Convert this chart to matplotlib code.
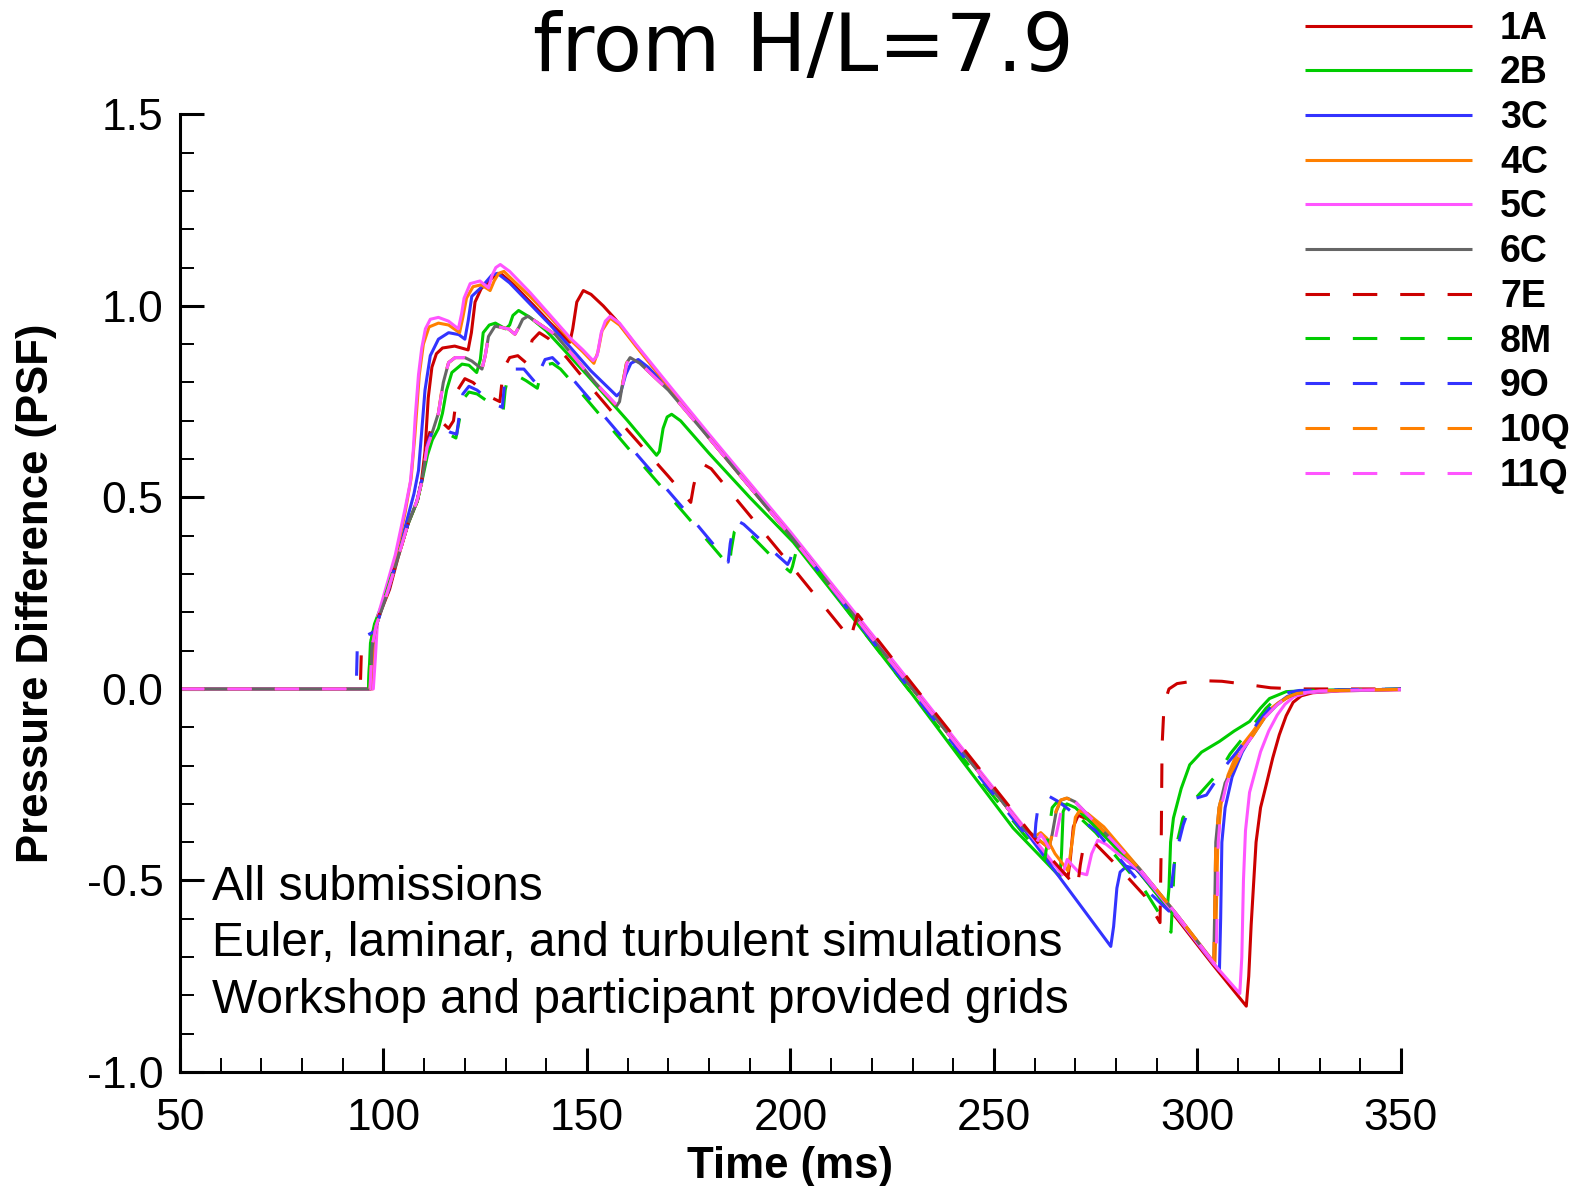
import matplotlib
matplotlib.use("Agg")
import matplotlib.pyplot as plt
from matplotlib.ticker import MultipleLocator, FormatStrFormatter

# ----- data (time in ms, pressure difference in PSF) -----
t_1a = [50, 96.8, 97.3, 98.2, 100, 101.5, 103.5, 106, 108.3, 109.3, 110.2, 111, 111.9, 113, 114.5, 117.5,
        120.8, 121.6, 122.5, 124, 125.5, 127.4, 129, 132, 137, 141, 145.8, 146.5, 147.5, 149.1, 151, 154,
        157, 160, 170, 180, 200, 230, 257, 263, 268.2, 268.8, 269.5, 270.7, 273, 276, 285.8, 295, 303.8,
        312, 312.6, 313.2, 314.4, 315.5, 316.9, 318.5, 320.1, 321.8, 323.5, 325.5, 328.3, 335, 350]
p_1a = [0, 0, 0.10, 0.17, 0.22, 0.26, 0.34, 0.43, 0.49, 0.54, 0.62, 0.76, 0.84, 0.875, 0.89, 0.895,
        0.885, 0.93, 1.01, 1.045, 1.06, 1.08, 1.083, 1.055, 1.0, 0.955, 0.905, 0.94, 1.01, 1.04, 1.03, 1.0,
        0.965, 0.925, 0.79, 0.655, 0.40, 0.0, -0.36, -0.44, -0.49, -0.44, -0.36, -0.33, -0.34, -0.37, -0.48, -0.60, -0.72,
        -0.828, -0.75, -0.615, -0.40, -0.31, -0.25, -0.18, -0.12, -0.07, -0.035, -0.018, -0.01, -0.005, -0.002]

t_2b = [50, 96.3, 96.8, 97.8, 100, 103, 106, 108.3, 109.6, 110.8, 112, 113.5, 114.5, 115.5, 116.8, 119.3,
        121, 122.9, 123.8, 124.5, 126, 127.5, 130, 131, 131.8, 133.2, 136, 140, 150, 160, 167.1, 167.8,
        168.7, 169.7, 170.8, 173, 180, 190, 200.7, 215, 230, 242, 254.7, 266.2, 266.6, 267, 267.9, 270,
        275, 285, 292.6, 293, 293.4, 294.1, 296, 298.1, 301, 305.4, 309, 312.8, 315.5, 317.7, 321.8, 330, 350]
p_2b = [0, 0, 0.12, 0.17, 0.23, 0.33, 0.43, 0.49, 0.55, 0.61, 0.65, 0.68, 0.72, 0.78, 0.826, 0.848,
        0.845, 0.826, 0.86, 0.93, 0.95, 0.955, 0.94, 0.95, 0.975, 0.988, 0.97, 0.935, 0.82, 0.70, 0.61, 0.62,
        0.68, 0.71, 0.717, 0.70, 0.615, 0.50, 0.383, 0.19, -0.015, -0.185, -0.363, -0.49, -0.43, -0.32, -0.30, -0.31,
        -0.36, -0.47, -0.57, -0.52, -0.40, -0.337, -0.26, -0.198, -0.165, -0.137, -0.11, -0.085, -0.05, -0.025, -0.007, -0.003, -0.001]

t_3c = [50, 96.8, 97.3, 98.3, 100.5, 103, 105.5, 107.5, 108.6, 109.3, 110.2, 111.5, 113.5, 116, 118.5, 120,
        120.8, 121.7, 124.2, 126.6, 128, 131, 136, 141, 145.8, 151, 157.3, 158.3, 159.5, 160.8, 162.6, 165,
        170, 180, 200, 230, 257, 266, 278.7, 279.4, 280.2, 281, 282.6, 285, 290, 295, 303.8, 305.4, 305.7,
        306, 306.8, 308.5, 311, 313.7, 316.5, 319.5, 322, 325, 335, 350]
p_3c = [0, 0, 0.12, 0.17, 0.24, 0.33, 0.43, 0.51, 0.57, 0.66, 0.78, 0.87, 0.913, 0.93, 0.925, 0.913,
        0.96, 1.025, 1.05, 1.08, 1.085, 1.06, 1.005, 0.95, 0.893, 0.83, 0.765, 0.775, 0.82, 0.85, 0.86, 0.84,
        0.785, 0.66, 0.405, 0.005, -0.36, -0.49, -0.672, -0.62, -0.52, -0.478, -0.463, -0.47, -0.53, -0.595, -0.715, -0.735, -0.60,
        -0.40, -0.31, -0.23, -0.165, -0.115, -0.07, -0.04, -0.02, -0.008, -0.003, -0.001]

t_4c = [50, 97.3, 97.8, 98.5, 100.5, 103, 105.3, 106.8, 107.7, 108.8, 109.8, 111.2, 113.5, 116, 118.7, 119.5,
        120.4, 122, 124, 126.2, 127.2, 128.3, 129.6, 132, 136, 141, 146, 149, 151.7, 152.7, 153.7, 155.7,
        158, 162, 170, 180, 200, 230, 257, 260, 261.5, 263, 265, 268.2, 269.2, 270, 271, 273, 277, 285.8,
        295, 303.8, 304.3, 304.6, 305, 305.8, 307.5, 310, 313.7, 317, 320, 324, 330, 350]
p_4c = [0, 0, 0.10, 0.18, 0.25, 0.345, 0.46, 0.55, 0.66, 0.82, 0.90, 0.945, 0.955, 0.95, 0.93, 0.97,
        1.02, 1.05, 1.055, 1.04, 1.065, 1.085, 1.09, 1.065, 1.025, 0.97, 0.91, 0.88, 0.85, 0.88, 0.935, 0.968,
        0.95, 0.895, 0.79, 0.66, 0.405, 0.005, -0.36, -0.385, -0.375, -0.39, -0.43, -0.475, -0.40, -0.335, -0.318, -0.325, -0.36, -0.47,
        -0.59, -0.71, -0.715, -0.60, -0.40, -0.30, -0.225, -0.16, -0.11, -0.06, -0.035, -0.013, -0.005, -0.001]

t_5c = [50, 97.5, 98, 98.6, 100.5, 102.9, 105.3, 106.6, 107.3, 107.8, 108.6, 109.4, 110.3, 111.5, 113.5, 116,
        118.4, 119.2, 119.8, 121.3, 123.7, 125.8, 126.7, 127.6, 128.7, 131, 136, 141, 146, 149, 151.5, 152.5,
        153.5, 154.5, 155.7, 158, 162, 170, 180, 200, 230, 257, 262, 266.8, 268, 269.2, 271, 272.8, 274,
        275.5, 277.5, 285.8, 295, 303.8, 310.4, 310.9, 311.3, 311.8, 312.8, 315.5, 317.5, 319.6, 321.5, 323.7, 327, 334.7, 350]
p_5c = [0, 0, 0.08, 0.19, 0.26, 0.35, 0.47, 0.54, 0.62, 0.71, 0.82, 0.89, 0.94, 0.965, 0.97, 0.96,
        0.94, 0.98, 1.02, 1.058, 1.065, 1.047, 1.08, 1.10, 1.108, 1.09, 1.035, 0.975, 0.915, 0.885, 0.857, 0.87,
        0.93, 0.96, 0.973, 0.955, 0.90, 0.795, 0.665, 0.41, 0.01, -0.355, -0.42, -0.485, -0.445, -0.46, -0.48, -0.485, -0.43,
        -0.395, -0.405, -0.475, -0.595, -0.715, -0.795, -0.70, -0.50, -0.37, -0.27, -0.164, -0.11, -0.068, -0.04, -0.02, -0.01, -0.005, -0.002]

t_6c = [50, 96.7, 97.2, 98.2, 100.3, 103.2, 106, 108.2, 109.4, 110.7, 112, 113.5, 114.7, 116, 117.6, 120,
        121.7, 124.2, 125, 125.8, 127.4, 130.7, 132.3, 133.3, 134.2, 135.5, 138, 142.2, 147, 152, 157.3, 158,
        158.8, 159.7, 160.6, 163, 170, 180, 200, 230, 257, 263.5, 264.3, 265.3, 266.5, 268, 270, 275, 285.8,
        295, 303.8, 304.0, 304.2, 304.5, 305.3, 306.8, 308.8, 311, 313.7, 316.5, 319.5, 322, 324.4, 330, 350]
p_6c = [0, 0, 0.11, 0.165, 0.23, 0.33, 0.43, 0.49, 0.54, 0.63, 0.67, 0.72, 0.80, 0.852, 0.865, 0.865,
        0.856, 0.835, 0.87, 0.92, 0.947, 0.94, 0.926, 0.945, 0.965, 0.973, 0.955, 0.925, 0.865, 0.80, 0.739, 0.75,
        0.80, 0.85, 0.865, 0.85, 0.78, 0.655, 0.40, 0.0, -0.36, -0.415, -0.38, -0.32, -0.29, -0.285, -0.295, -0.35, -0.47,
        -0.59, -0.712, -0.71, -0.60, -0.40, -0.31, -0.245, -0.207, -0.16, -0.12, -0.075, -0.042, -0.022, -0.012, -0.005, -0.001]

t_7e = [50, 94.3, 94.6, 95.5, 97.5, 98.5, 100.5, 103.2, 106, 108.3, 109.5, 110.8, 112.3, 114, 116, 117.2,
        118.2, 120, 122, 125.7, 128.6, 129.1, 129.7, 131, 133, 135.2, 135.8, 136.5, 138.3, 140.5, 145, 150,
        160, 170, 175.5, 176.2, 177.2, 178.5, 180.5, 198, 214.8, 215.5, 216.5, 220, 230, 257, 263, 270.5,
        271.2, 272, 273.2, 275, 281, 287, 290.8, 291.1, 291.3, 291.8, 293, 295, 300, 306, 312, 318, 325, 350]
p_7e = [0, 0, 0.11, 0.12, 0.15, 0.18, 0.24, 0.33, 0.43, 0.49, 0.55, 0.65, 0.70, 0.70, 0.68, 0.70,
        0.78, 0.81, 0.80, 0.765, 0.75, 0.80, 0.84, 0.865, 0.87, 0.85, 0.87, 0.91, 0.93, 0.915, 0.865, 0.80,
        0.675, 0.555, 0.487, 0.53, 0.575, 0.587, 0.575, 0.35, 0.13, 0.16, 0.195, 0.148, 0.012, -0.35, -0.43, -0.52,
        -0.46, -0.41, -0.395, -0.405, -0.47, -0.54, -0.61, -0.40, -0.15, -0.04, 0.0, 0.014, 0.022, 0.02, 0.012, 0.003, 0.0, 0.0]

t_8m = [50, 96.3, 96.8, 98, 100.2, 103, 106, 108.3, 109.6, 110.9, 112.3, 113.8, 116, 117.8, 118.6, 119.5,
        121, 123, 127, 129.4, 129.9, 130.6, 132.5, 135, 137.8, 138.6, 139.8, 141.5, 143.5, 146, 160, 175,
        185, 185.4, 186.2, 187.5, 189, 195, 200, 200.5, 201.3, 202.5, 215, 230, 257, 262.5, 263.5, 264.3,
        265.5, 268, 275, 281, 287, 293.5, 293.9, 294.3, 294.8, 296.4, 300, 305.4, 308, 311.1, 314, 316.8,
        319, 321.8, 326, 350]
p_8m = [0, 0, 0.12, 0.17, 0.235, 0.33, 0.43, 0.49, 0.55, 0.63, 0.665, 0.675, 0.665, 0.655, 0.70, 0.755,
        0.775, 0.77, 0.74, 0.725, 0.78, 0.815, 0.82, 0.805, 0.785, 0.82, 0.845, 0.85, 0.835, 0.805, 0.63, 0.445,
        0.32, 0.36, 0.41, 0.425, 0.415, 0.35, 0.305, 0.32, 0.355, 0.37, 0.19, -0.015, -0.375, -0.445, -0.37, -0.31,
        -0.295, -0.305, -0.375, -0.45, -0.525, -0.635, -0.55, -0.46, -0.41, -0.337, -0.28, -0.216, -0.17, -0.129, -0.09, -0.051,
        -0.028, -0.012, -0.004, 0.0]

t_9o = [50, 93.3, 93.6, 95, 97.8, 99, 100.8, 103.2, 106, 108.2, 109.5, 110.8, 112.3, 114, 116.4, 118,
        118.7, 119.5, 121, 123, 127, 129.2, 129.7, 130.3, 132.3, 134.5, 137.7, 138.4, 139.7, 141.5, 143.4, 146,
        160, 175, 184.7, 185.2, 186, 186.8, 188.5, 195, 199.3, 200, 200.7, 202, 215, 230, 257, 259.9,
        260.3, 260.8, 262, 263.5, 266, 275, 281, 287, 293, 293.3, 294.5, 296.5, 298, 299.7, 302.2, 304.5,
        307.1, 310, 312.8, 315, 317.7, 321, 325, 350]
p_9o = [0, 0, 0.125, 0.135, 0.15, 0.19, 0.24, 0.335, 0.43, 0.49, 0.55, 0.64, 0.682, 0.685, 0.67, 0.665,
        0.72, 0.77, 0.79, 0.78, 0.745, 0.735, 0.79, 0.82, 0.835, 0.835, 0.795, 0.83, 0.86, 0.865, 0.845, 0.815,
        0.64, 0.455, 0.331, 0.38, 0.425, 0.44, 0.43, 0.366, 0.325, 0.34, 0.365, 0.375, 0.195, -0.01, -0.37, -0.405,
        -0.35, -0.31, -0.29, -0.28, -0.295, -0.37, -0.445, -0.52, -0.58, -0.54, -0.44, -0.355, -0.31, -0.285, -0.277, -0.24,
        -0.198, -0.16, -0.12, -0.085, -0.051, -0.012, -0.004, 0.0]

t_10q = [50, 96.7, 97.2, 98.2, 100.3, 103.2, 106, 108.2, 109.4, 110.7, 112, 113.5, 114.6, 116, 117.6, 120,
         121.7, 124.2, 125, 125.8, 127.4, 130.7, 132.3, 133.3, 134.2, 135.5, 138, 142.2, 147, 152, 157.2, 158,
         158.8, 159.7, 160.6, 163, 170, 180, 200, 230, 257, 263.5, 264.3, 265.2, 266.4, 267.8, 270, 275, 285.8,
         295, 303.8, 304.0, 304.2, 304.5, 305.3, 306.8, 308.8, 311, 313.7, 316.5, 319.5, 322, 324.4, 330, 350]
p_10q = [0, 0, 0.11, 0.165, 0.23, 0.33, 0.43, 0.49, 0.54, 0.63, 0.67, 0.72, 0.80, 0.852, 0.865, 0.865,
         0.856, 0.835, 0.87, 0.92, 0.947, 0.94, 0.926, 0.945, 0.965, 0.973, 0.955, 0.925, 0.865, 0.80, 0.74, 0.75,
         0.80, 0.85, 0.865, 0.85, 0.78, 0.655, 0.40, 0.0, -0.36, -0.415, -0.38, -0.32, -0.29, -0.285, -0.295, -0.35, -0.47,
         -0.59, -0.712, -0.71, -0.60, -0.40, -0.31, -0.245, -0.207, -0.16, -0.12, -0.075, -0.042, -0.022, -0.012, -0.005, -0.001]

t_11q = [50, 96.7, 97.2, 98.2, 100.3, 103.2, 106, 108.2, 109.4, 110.7, 112, 113.5, 114.7, 116, 117.6, 120,
         121.7, 124.2, 125, 125.8, 127.4, 130.7, 132.3, 133.3, 134.2, 135.5, 138, 142.2, 147, 152, 157.4, 158.1,
         158.9, 159.8, 160.7, 163, 170, 180, 200, 230, 257, 260.5, 261.5, 262.5, 264.3, 265.3, 266.5, 268, 270,
         275, 285.8, 295, 303.8, 304.6, 304.8, 305.1, 305.8, 307.2, 309, 311, 313.7, 316.5, 319.5, 322, 324.4, 330, 350]
p_11q = [0, 0, 0.11, 0.165, 0.23, 0.33, 0.43, 0.49, 0.54, 0.63, 0.67, 0.72, 0.80, 0.852, 0.865, 0.865,
         0.856, 0.835, 0.87, 0.92, 0.947, 0.94, 0.926, 0.945, 0.965, 0.973, 0.955, 0.925, 0.865, 0.80, 0.74, 0.75,
         0.80, 0.85, 0.865, 0.85, 0.78, 0.655, 0.40, 0.0, -0.36, -0.40, -0.38, -0.395, -0.43, -0.38, -0.32, -0.29, -0.295,
         -0.35, -0.47, -0.59, -0.712, -0.72, -0.60, -0.40, -0.31, -0.245, -0.205, -0.16, -0.12, -0.075, -0.042, -0.022, -0.012, -0.005, -0.001]

labels = ["1A", "2B", "3C", "4C", "5C", "6C", "7E", "8M", "9O", "10Q", "11Q"]
times = [t_1a, t_2b, t_3c, t_4c, t_5c, t_6c, t_7e, t_8m, t_9o, t_10q, t_11q]
values = [p_1a, p_2b, p_3c, p_4c, p_5c, p_6c, p_7e, p_8m, p_9o, p_10q, p_11q]
colors = ["#cc0000", "#00cc00", "#3333ff", "#ff8000", "#ff55ff", "#666666",
          "#cc0000", "#00cc00", "#3333ff", "#ff8000", "#ff55ff"]
dashed = [False] * 6 + [True] * 5

# ----- figure -----
fig = plt.figure(figsize=(15.83, 11.86), dpi=100)
ax = fig.add_axes([0.1137, 0.0961, 0.7713, 0.8075])

for lab, t, p, c, d in zip(labels, times, values, colors, dashed):
    ls = (0, (8, 7.5)) if d else "-"
    ax.plot(t, p, color=c, lw=2.2, ls=ls, label=lab, solid_capstyle="butt")

ax.set_xlim(50, 350)
ax.set_ylim(-1.0, 1.5)
for s in ["top", "right"]:
    ax.spines[s].set_visible(False)
for s in ["left", "bottom"]:
    ax.spines[s].set_linewidth(2.2)

ax.xaxis.set_major_locator(MultipleLocator(50))
ax.xaxis.set_minor_locator(MultipleLocator(10))
ax.yaxis.set_major_locator(MultipleLocator(0.5))
ax.yaxis.set_minor_locator(MultipleLocator(0.1))
ax.yaxis.set_major_formatter(FormatStrFormatter("%.1f"))
ax.tick_params(which="major", direction="in", length=17, width=2.2)
ax.tick_params(which="minor", direction="in", length=10, width=1.4)
ax.tick_params(axis="x", which="major", pad=19)
ax.tick_params(axis="y", which="major", pad=12)
for lbl in ax.get_xticklabels() + ax.get_yticklabels():
    lbl.set_fontfamily("Liberation Sans")
    lbl.set_fontsize(32)

ax.set_xlabel("Time (ms)", fontsize=31.5, fontweight="bold", family="Liberation Sans")
ax.set_ylabel("Pressure Difference (PSF)", fontsize=31.5, fontweight="bold", family="Liberation Sans")
ax.xaxis.set_label_coords(0.5, -0.077)
ax.yaxis.set_label_coords(-0.1007, 0.5)

notes = ["All submissions",
         "Euler, laminar, and turbulent simulations",
         "Workshop and participant provided grids"]
for i, line in enumerate(notes):
    ax.text(0.0262, 0.18 - i * 0.0592, line, transform=ax.transAxes, fontsize=34.5,
            family="Liberation Sans", va="baseline", ha="left")

fig.text(803 / 1583, 1 - 71 / 1186, "from H/L=7.9", fontsize=58, family="DejaVu Sans",
         ha="center", va="baseline")

leg = ax.legend(loc="upper left", bbox_to_anchor=(0.8244, 0.991), bbox_transform=fig.transFigure,
                frameon=False, prop={"family": "Liberation Sans", "weight": "bold", "size": 27},
                handlelength=4.45, handletextpad=0.75, labelspacing=0.232, borderpad=0, borderaxespad=0)

fig.savefig("out.png", dpi=100)
